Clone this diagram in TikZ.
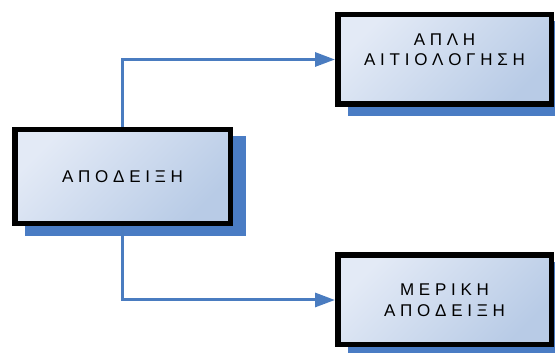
\documentclass[tikz,border=0pt]{standalone}
\usepackage{fontspec}
\setmainfont{Liberation Sans}
\usetikzlibrary{arrows.meta,shadows}

\definecolor{linkblue}{RGB}{74,124,192}
\definecolor{shadowblue}{RGB}{74,124,196}
\definecolor{boxlight}{RGB}{227,234,246}
\definecolor{boxdark}{RGB}{184,203,230}

\begin{document}
\begin{tikzpicture}[
    x=1pt, y=1pt,
    box/.style={rectangle, draw=black, line width=5.5pt,
      left color=boxlight, right color=boxdark, shading angle=45,
      minimum width=213.5pt, minimum height=89.5pt, inner sep=0pt,
      font=\fontsize{17}{20.5}\selectfont, align=center,
      general shadow={shadow xshift=13pt, shadow yshift=-9.5pt,
        fill=shadowblue, draw=shadowblue, line width=5.5pt}},
    boxtext/.style={inner sep=0pt, font=\fontsize{17}{20.5}\selectfont, align=center},
    link/.style={draw=linkblue, line width=3pt, -{Triangle[length=20pt, width=14pt]}}
  ]

    % page frame
    \useasboundingbox (0,0) rectangle (555,353);
    \clip (0,0) rectangle (555,353);

    % Main box (left)
    \node[box, minimum width=215.5pt, minimum height=94pt] (proof) at (122.5, 176.5) {Α Π Ο Δ Ε Ι Ξ Η};

    % Right boxes
    \node[box] (simple) at (444.5, 293.5) {};
    \node[boxtext] (simpletext) at ([yshift=10pt]simple.center) {Α Π Λ Η\\Α Ι Τ Ι Ο Λ Ο Γ Η Σ Η};
    \node[box] (partial) at (444.5, 53) {Μ Ε Ρ Ι Κ Η\\Α Π Ο Δ Ε Ι Ξ Η};

    % Connectors
    \draw[link] (proof.north) |- (simple.west);
    \draw[link] (proof.south) |- (partial.west);

  \end{tikzpicture}
\end{document}
